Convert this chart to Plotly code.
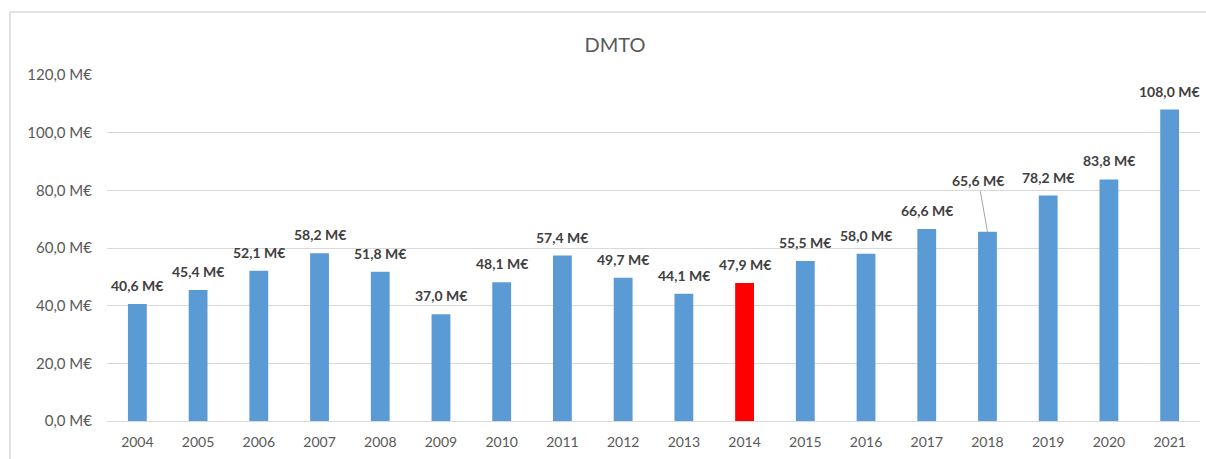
import plotly.graph_objects as go

years = ["2004", "2005", "2006", "2007", "2008", "2009", "2010", "2011", "2012",
         "2013", "2014", "2015", "2016", "2017", "2018", "2019", "2020", "2021"]
values = [40.6, 45.4, 52.1, 58.2, 51.8, 37.0, 48.1, 57.4, 49.7,
          44.1, 47.9, 55.5, 58.0, 66.6, 65.6, 78.2, 83.8, 108.0]
highlight_year = "2014"
y_tickvals = [0, 20, 40, 60, 80, 100, 120]
y_ticktext = ["0,0 M€", "20,0 M€", "40,0 M€", "60,0 M€", "80,0 M€", "100,0 M€", "120,0 M€"]
leader_year = "2018"

BLUE = "#5B9BD5"
RED = "#FF0000"
FONT = "Lato"


def fmt(v):
    return f"{v:.1f}".replace(".", ",") + " M€"


colors = [RED if y == highlight_year else BLUE for y in years]

fig = go.Figure(go.Bar(
    x=years, y=values, marker=dict(color=colors, line=dict(width=0)),
    width=0.31, hoverinfo="skip",
))

annotations = []
for i, (y, v) in enumerate(zip(years, values)):
    if y == leader_year:
        annotations.append(dict(
            x=i, y=v, xref="x", yref="y", text=f"<b>{fmt(v)}</b>",
            showarrow=True, arrowhead=0, arrowwidth=1, arrowcolor="#A6A6A6",
            ax=-9, ay=-51, standoff=0,
            font=dict(family=FONT, size=14, color="#404040"),
        ))
    else:
        annotations.append(dict(
            x=i, y=v, xref="x", yref="y", text=f"<b>{fmt(v)}</b>",
            showarrow=False, yanchor="bottom", yshift=8,
            font=dict(family=FONT, size=14, color="#404040"),
        ))

fig.update_layout(
    width=1206, height=459,
    margin=dict(l=107, r=6, t=75, b=38),
    paper_bgcolor="white", plot_bgcolor="white",
    font=dict(family=FONT, color="#595959"),
    title=dict(text="DMTO", x=0.51, xanchor="center", y=1 - 45 / 459, yanchor="middle",
               font=dict(family=FONT, size=20, color="#595959")),
    showlegend=False,
    annotations=annotations,
    shapes=[dict(type="rect", xref="paper", yref="paper",
                 x0=(10 - 107) / 1093, x1=1.2, y0=-0.3, y1=(421 - 12) / 346,
                 line=dict(color="#D9D9D9", width=1.5), fillcolor="rgba(0,0,0,0)",
                 layer="below")],
)
fig.update_xaxes(
    type="category", range=[-0.5, len(years) - 0.5],
    showgrid=False, showline=True, linecolor="#D9D9D9", linewidth=1,
    ticks="", tickfont=dict(family=FONT, size=14, color="#595959"),
    ticklabelstandoff=8,
)
fig.update_yaxes(
    range=[0, 120], tickvals=y_tickvals, ticktext=y_ticktext,
    showgrid=True, gridcolor="#D9D9D9", gridwidth=1, zeroline=False,
    showline=False, ticks="", tickfont=dict(family=FONT, size=15, color="#595959"),
    ticklabelstandoff=14,
)

fig.write_html("out.html", config={"displayModeBar": False},
               post_script="document.body.style.margin='0px';")
